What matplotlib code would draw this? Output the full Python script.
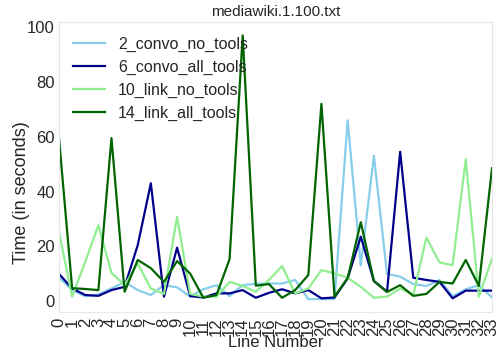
import numpy as np
import matplotlib.pyplot as plt

plt.rcParams['font.family'] = ['Liberation Sans', 'DejaVu Sans']
plt.rcParams['text.color'] = '#262626'
plt.rcParams['xtick.color'] = '#262626'
plt.rcParams['ytick.color'] = '#262626'
plt.rcParams['axes.labelcolor'] = '#262626'

lines = list(range(34))
convo_no_tools = [8.6, 4, 1.8, 2.4, 4.6, 7, 4, 2.2, 5.8, 5, 1.6, 4.3, 5.8, 1.8, 5.8, 6.3, 6.4, 6.4,
                  7.7, 0.7, 0.7, 0.7, 66, 13, 53, 9.9, 8.9, 6.2, 5.5, 7.7, 1.8, 4.3, 5.8, 1.3]
convo_all_tools = [9.9, 4.6, 2.2, 1.9, 4, 5.2, 20.4, 43, 1.6, 19.5, 1.8, 1.3, 2.8, 2.8, 4, 1.2, 3, 4.3,
                   2.8, 4, 1, 1.3, 8.3, 23.5, 7.3, 3.4, 54.5, 8.5, 7.7, 7, 1, 3.8, 3.8, 3.8]
link_no_tools = [25.3, 1.6, 14.3, 27.7, 10.3, 5.8, 13.7, 4.6, 2.6, 30.8, 2.6, 1.6, 1.6, 7, 5.5, 3.4, 7.7, 12.8,
                 2.8, 4.6, 11.3, 10.1, 8.5, 5.2, 1.2, 1.6, 4.6, 2.2, 23.2, 14.1, 13.1, 51.7, 1.6, 15.5]
link_all_tools = [59.5, 4.7, 4.4, 4, 59.5, 3.4, 15, 12, 7, 14.6, 10, 1.2, 2.2, 15.3, 97, 5.6, 6.2, 1.2,
                  4, 9.5, 72, 1.6, 8.4, 28.8, 7.3, 3.3, 5.8, 1.9, 2.6, 7, 6.4, 15, 5.5, 48.5]

series = [("2_convo_no_tools", convo_no_tools, "skyblue"),
          ("6_convo_all_tools", convo_all_tools, "darkblue"),
          ("10_link_no_tools", link_no_tools, "lightgreen"),
          ("14_link_all_tools", link_all_tools, "darkgreen")]

fig = plt.figure(figsize=(4.96, 3.52), dpi=100)
ax = fig.add_axes([59 / 496, 1 - 312 / 352, 433 / 496, 290 / 352])
for name, vals, col in series:
    ax.plot(lines, vals, color=col, lw=1.6, label=name)

ax.set_xlim(0, 33)
ax.set_ylim(-4.0, 101.9)
ax.set_xticks(lines)
ax.set_xticklabels([str(i) for i in lines], rotation=90, fontsize=12)
ax.set_yticks([0, 20, 40, 60, 80, 100])
ax.tick_params(axis='y', labelsize=12, length=0, pad=3)
ax.tick_params(axis='x', length=0, pad=4)
for s in ax.spines.values():
    s.set_color('#e8e8e8')
ax.set_title("mediawiki.1.100.txt", fontsize=11, pad=4)
ax.set_xlabel("Line Number", fontsize=12, labelpad=-1)
ax.set_ylabel("Time (in seconds)", fontsize=13)
ax.yaxis.set_label_coords(-0.068, 0.41)
ax.legend(loc='upper left', frameon=False, fontsize=11.5, handlelength=2.0,
          handletextpad=0.8, borderaxespad=0.5, labelspacing=0.5)

fig.savefig("out.png", dpi=100)
